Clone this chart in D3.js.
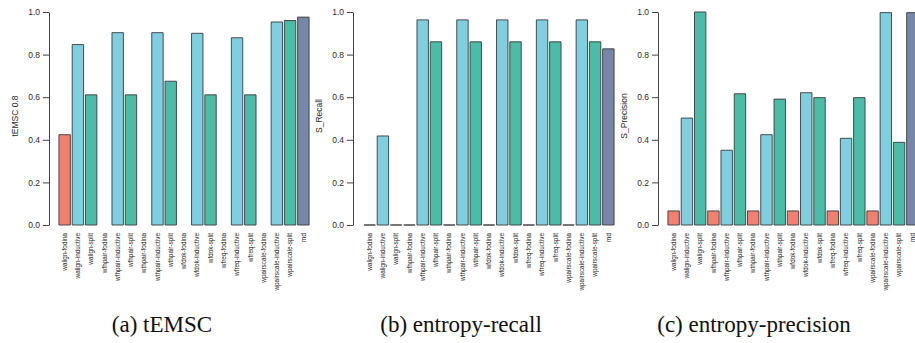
<!DOCTYPE html>
<html>
<head>
<meta charset="utf-8">
<script src="https://cdn.jsdelivr.net/npm/d3@7"></script>
<style>
  body { margin: 0; background: #fff; }
  svg { display: block; }
</style>
</head>
<body>
<div id="chart"></div>
<script>
// categories (x axis)
const categories = [
  'walign-fodina', 'walign-inductive', 'walign-split',
  'wfhpair-fodina', 'wfhpair-inductive', 'wfhpair-split',
  'wthpair-fodina', 'wthpair-inductive', 'wthpair-split',
  'wfdok-fodina', 'wfdok-inductive', 'wfdok-split',
  'wfreq-fodina', 'wfreq-inductive', 'wfreq-split',
  'wpairscale-fodina', 'wpairscale-inductive', 'wpairscale-split',
  'md'
]

// values per panel (null = not drawn)
const temsc = [0.424, 0.847, 0.611, null, 0.903, 0.611, null, 0.903, 0.675,
  null, 0.900, 0.611, null, 0.879, 0.611, null, 0.953, 0.960, 0.976]
const sRecall = [0, 0.418, 0, 0, 0.963, 0.860, 0, 0.963, 0.860,
  0, 0.963, 0.860, 0, 0.963, 0.860, 0, 0.963, 0.860, 0.827]
const sPrecision = [0.066, 0.502, 1.0, 0.066, 0.351, 0.616, 0.066, 0.424, 0.591,
  0.066, 0.621, 0.598, 0.066, 0.407, 0.598, 0.066, 0.997, 0.388, 0.997]

const yTicks = [0, 0.2, 0.4, 0.6, 0.8, 1.0]
const captions = ['(a) tEMSC', '(b) entropy-recall', '(c) entropy-precision']
const yLabels = ['tEMSC 0.8', 'S_Recall', 'S_Precision']

const colors = { fodina: '#f08070', inductive: '#80cfe1', split: '#4abca8', md: '#7787a9' }
const colorOf = c => colors[c.split('-').pop()] || colors.md

const width = 915, height = 343
const svg = d3.select('#chart').append('svg')
  .attr('width', width)
  .attr('height', height)

// panel layout: axis x, bar range
const panels = [
  { values: temsc, axisX: 49, x0: 58, x1: 310, labelX: 18, capX: 162 },
  { values: sRecall, axisX: 353, x0: 363, x1: 615, labelX: 322, capX: 461 },
  { values: sPrecision, axisX: 658, x0: 667, x1: 919, labelX: 627, capX: 754 }
]

const yScale = d3.scaleLinear().domain([0, 1]).range([225, 12])

panels.forEach((p, k) => {
  const g = svg.append('g')

  let xScale = d3.scaleBand()
    .domain(categories)
    .range([p.x0, p.x1])
    .paddingInner(0.14)
    .paddingOuter(0.07)

  // bars as paths so zero-height bars still show their outline
  g.selectAll('.bar')
    .data(categories.map((c, i) => ({ c: c, v: p.values[i] })).filter(d => d.v !== null))
    .enter()
    .append('path')
    .attr('class', 'bar')
    .attr('d', d => {
      let x = xScale(d.c), w = xScale.bandwidth()
      return `M${x},${yScale(0)}V${yScale(d.v)}h${w}V${yScale(0)}Z`
    })
    .attr('fill', d => colorOf(d.c))
    .attr('stroke', '#3a3a3a')
    .attr('stroke-width', 0.9)

  // y axis
  let yAxis = d3.axisLeft(yScale)
    .tickValues(yTicks)
    .tickFormat(d3.format('.1f'))
    .tickSizeInner(6)
    .tickSizeOuter(0)
    .tickPadding(3)

  let ax = g.append('g')
    .attr('transform', `translate(${p.axisX}, 0)`)
    .call(yAxis)
  ax.select('.domain').attr('stroke', '#444')
  ax.selectAll('.tick line').attr('stroke', '#444')
  ax.selectAll('text')
    .attr('font-family', 'Liberation Sans, Arial, sans-serif')
    .attr('font-size', '8.5px')
    .attr('fill', '#2a2a2a')

  // x labels, rotated
  g.selectAll('.xlab')
    .data(categories)
    .enter()
    .append('text')
    .attr('class', 'xlab')
    .attr('transform', d => `translate(${xScale(d) + xScale.bandwidth() / 2 + 2.2}, 233) rotate(-90)`)
    .attr('text-anchor', 'end')
    .attr('font-family', 'Liberation Sans, Arial, sans-serif')
    .attr('font-size', '6.4px')
    .attr('fill', '#222')
    .text(d => d)

  // y label
  g.append('text')
    .attr('transform', `translate(${p.labelX}, 116) rotate(-90)`)
    .attr('text-anchor', 'middle')
    .attr('font-family', 'Liberation Sans, Arial, sans-serif')
    .attr('font-size', '8.5px')
    .attr('fill', '#2a2a2a')
    .text(yLabels[k])

  // caption
  svg.append('text')
    .attr('x', p.capX)
    .attr('y', 332)
    .attr('text-anchor', 'middle')
    .attr('font-family', 'Liberation Serif, DejaVu Serif, serif')
    .attr('font-size', '23px')
    .attr('fill', '#111')
    .text(captions[k])
})
</script>
</body>
</html>
